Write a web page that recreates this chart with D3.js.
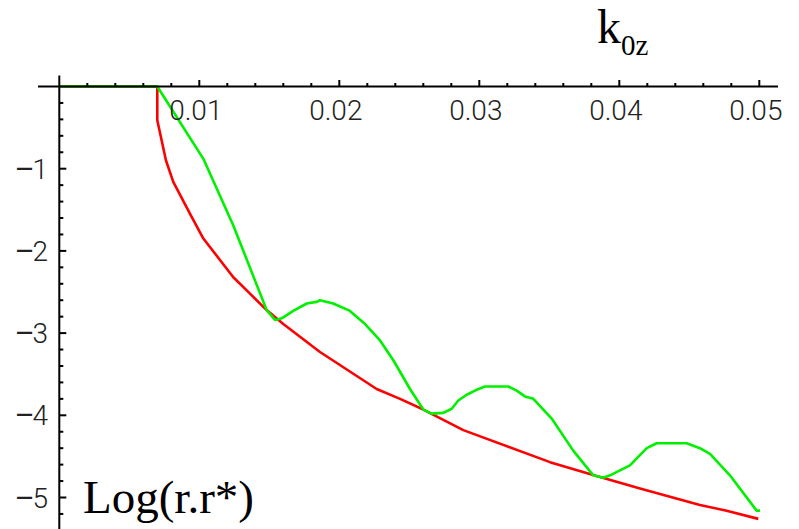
<!DOCTYPE html>
<html>
<head>
<meta charset="utf-8">
<script src="https://cdn.jsdelivr.net/npm/d3@7"></script>
<style>
  html, body { margin: 0; padding: 0; background: #fff; }
  svg { display: block; }
</style>
</head>
<body>
<svg class="chart"></svg>
<script>
// red curve: k0z vs Log(r.r*)
var redK   = [0, 0.0070, 0.0070, 0.00762, 0.00814, 0.00934, 0.01029, 0.01243, 0.01362, 0.01481, 0.0160,
              0.01862, 0.02267, 0.02434, 0.0260, 0.02886, 0.03505, 0.03862, 0.04148, 0.04576, 0.04767, 0.04993];
var redLog = [0, 0, -0.41, -0.90, -1.16, -1.55, -1.85, -2.32, -2.52, -2.72, -2.89,
              -3.23, -3.68, -3.80, -3.93, -4.18, -4.57, -4.75, -4.89, -5.09, -5.16, -5.26];

// green curve
var greenK   = [0, 0.0070, 0.01029, 0.01243, 0.01481, 0.01541, 0.01589, 0.01671, 0.01767, 0.01839, 0.01862,
                0.01957, 0.02076, 0.02184, 0.02291, 0.02386, 0.02505, 0.0260, 0.0266, 0.02743, 0.02803,
                0.0285, 0.0291, 0.02981, 0.03041, 0.03207, 0.03267, 0.03326, 0.03386, 0.03517, 0.03671,
                0.03814, 0.03886, 0.03934, 0.04076, 0.04196, 0.04267, 0.04362, 0.04481, 0.04576, 0.04648,
                0.04790, 0.04981, 0.05005];
var greenLog = [0, 0, -0.88, -1.69, -2.72, -2.84, -2.82, -2.73, -2.64, -2.62, -2.60,
                -2.64, -2.73, -2.89, -3.09, -3.33, -3.68, -3.93, -3.98, -3.97, -3.92,
                -3.82, -3.75, -3.69, -3.65, -3.65, -3.70, -3.77, -3.80, -4.04, -4.43,
                -4.73, -4.76, -4.73, -4.61, -4.40, -4.34, -4.34, -4.34, -4.40, -4.47,
                -4.73, -5.16, -5.16];

var xTicks = [0.01, 0.02, 0.03, 0.04, 0.05];
var xTickLabels = ["0.01", "0.02", "0.03", "0.04", "0.05"];
var yTicks = [-1, -2, -3, -4, -5];
var yTickLabels = ["1", "2", "3", "4", "5"];   // drawn after a minus sign

(function () {
    'use strict';
    var width = 799, height = 529;
    var tickFont = "Roboto, 'Liberation Sans', sans-serif";
    var serif = "'Liberation Serif', 'Times New Roman', serif";

    var svg = d3.select(".chart")
        .attr("width", width)
        .attr("height", height);

    var x = d3.scaleLinear().domain([0, 0.05]).range([59.3, 759.3]);
    var y = d3.scaleLinear().domain([0, -5]).range([86.5, 497.5]);

    // minor ticks every 0.002 on x, 0.2 on y
    var xMinor = d3.range(1, 27).map(function (i) { return i * 0.002; })
        .filter(function (v) { return Math.abs(v / 0.01 - Math.round(v / 0.01)) > 1e-6; })
        .filter(function (v) { return x(v) < 778; });
    var yMinor = d3.range(1, 28).map(function (i) { return -i * 0.2; })
        .filter(function (v) { return Math.abs(v - Math.round(v)) > 1e-6; })
        .filter(function (v) { return y(v) < height; });

    var line = d3.line()
        .x(function (d) { return x(d[0]); })
        .y(function (d) { return y(d[1]); });

    // curves
    svg.append("path")
        .datum(d3.zip(redK, redLog))
        .attr("fill", "none")
        .attr("stroke", "#ff0000")
        .attr("stroke-width", 2.6)
        .attr("stroke-linejoin", "round")
        .attr("d", line);

    svg.append("path")
        .datum(d3.zip(greenK, greenLog))
        .attr("fill", "none")
        .attr("stroke", "#00f000")
        .attr("stroke-width", 2.6)
        .attr("stroke-linejoin", "round")
        .attr("d", line);

    var axes = svg.append("g").attr("stroke", "#000").attr("stroke-width", 2);

    // x axis line + ticks (pointing up)
    axes.append("line")
        .attr("x1", 38).attr("x2", 778)
        .attr("y1", y(0)).attr("y2", y(0));
    axes.selectAll(".xmaj").data(xTicks).enter().append("line")
        .attr("x1", function (d) { return x(d); }).attr("x2", function (d) { return x(d); })
        .attr("y1", y(0)).attr("y2", y(0) - 6.5);
    axes.selectAll(".xmin").data(xMinor).enter().append("line")
        .attr("x1", function (d) { return x(d); }).attr("x2", function (d) { return x(d); })
        .attr("y1", y(0)).attr("y2", y(0) - 3.5);

    // y axis line + ticks (pointing right)
    axes.append("line")
        .attr("x1", x(0)).attr("x2", x(0))
        .attr("y1", 75.5).attr("y2", height);
    axes.selectAll(".ymaj").data(yTicks).enter().append("line")
        .attr("x1", x(0)).attr("x2", x(0) + 7)
        .attr("y1", function (d) { return y(d); }).attr("y2", function (d) { return y(d); });
    axes.selectAll(".ymin").data(yMinor).enter().append("line")
        .attr("x1", x(0)).attr("x2", x(0) + 4)
        .attr("y1", function (d) { return y(d); }).attr("y2", function (d) { return y(d); });

    // tick labels
    svg.selectAll(".xlab").data(xTicks).enter().append("text")
        .attr("x", function (d) { return x(d) - 3.5; })
        .attr("y", 120)
        .attr("text-anchor", "middle")
        .attr("font-family", tickFont)
        .attr("font-weight", 300)
        .attr("font-size", 28)
        .attr("fill", "#222")
        .text(function (d, i) { return xTickLabels[i]; });

    var ylab = svg.selectAll(".ylab").data(yTicks).enter().append("text")
        .attr("x", 48)
        .attr("y", function (d) { return y(d) + 10; })
        .attr("text-anchor", "end")
        .attr("font-family", tickFont)
        .attr("font-weight", 300)
        .attr("font-size", 28)
        .attr("fill", "#222");
    ylab.append("tspan")
        .attr("font-family", "'Liberation Sans', sans-serif")
        .attr("font-weight", 400)
        .attr("font-size", 31)
        .text("\u2212");
    ylab.append("tspan")
        .attr("dx", -1)
        .text(function (d, i) { return yTickLabels[i]; });

    // axis titles
    var kt = svg.append("text")
        .attr("x", 597)
        .attr("y", 43)
        .attr("font-family", serif)
        .attr("font-size", 48)
        .attr("fill", "#000");
    kt.append("tspan").text("k");
    kt.append("tspan").attr("font-size", 29).attr("dy", 12).text("0z");

    svg.append("text")
        .attr("x", 83)
        .attr("y", 513)
        .attr("font-family", serif)
        .attr("font-size", 47)
        .attr("fill", "#000")
        .text("Log(r.r*)");
})();
</script>
</body>
</html>
